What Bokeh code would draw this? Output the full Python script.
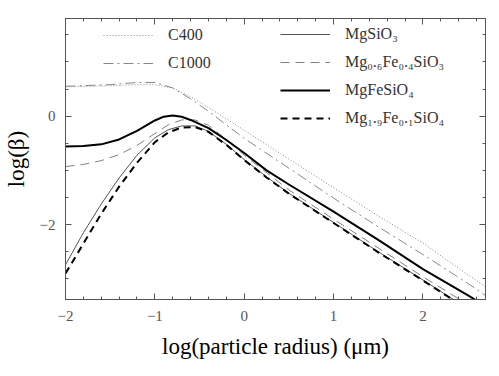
from bokeh.plotting import figure
from bokeh.models import (Range1d, LinearAxis, SingleIntervalTicker, Legend, LegendItem,
                          CustomJSTickFormatter)
from bokeh.embed import file_html
from bokeh.resources import INLINE

# ---- data (log radius in micron, log beta) ----
x_c400 = [-2.0, -1.5, -1.2, -1.0, -0.8, -0.6, -0.4, -0.2, 0.0, 0.5, 1.0, 1.5, 2.0, 2.5, 2.75]
y_c400 = [0.54, 0.56, 0.58, 0.58, 0.52, 0.36, 0.16, -0.05, -0.26, -0.79, -1.32, -1.84, -2.34, -2.92, -3.2]

x_c1000 = [-2.0, -1.5, -1.2, -1.0, -0.8, -0.6, -0.4, -0.2, 0.0, 0.5, 1.0, 1.5, 2.0, 2.5, 2.75]
y_c1000 = [0.55, 0.58, 0.62, 0.62, 0.52, 0.32, 0.09, -0.16, -0.41, -0.96, -1.51, -2.04, -2.55, -3.08, -3.36]

x_mgfe = [-2.0, -1.8, -1.6, -1.4, -1.2, -1.0, -0.9, -0.8, -0.7, -0.6, -0.4, -0.2, 0.0, 0.25, 0.5, 1.0, 1.5, 2.0, 2.5, 2.75]
y_mgfe = [-0.56, -0.55, -0.52, -0.43, -0.27, -0.08, -0.01, 0.01, -0.01, -0.07, -0.22, -0.44, -0.68, -1.0, -1.26, -1.76, -2.28, -2.82, -3.3, -3.55]

x_mg06 = [-2.0, -1.8, -1.6, -1.4, -1.2, -1.0, -0.85, -0.7, -0.55, -0.4, -0.2, 0.0, 0.5, 1.0, 1.5, 2.0, 2.5, 2.75]
y_mg06 = [-0.93, -0.89, -0.82, -0.71, -0.54, -0.32, -0.16, -0.07, -0.07, -0.17, -0.43, -0.72, -1.36, -1.9, -2.43, -2.96, -3.47, -3.73]

x_mgsio3 = [-2.0, -1.8, -1.6, -1.4, -1.2, -1.0, -0.85, -0.7, -0.55, -0.4, -0.2, 0.0, 0.25, 0.5, 1.0, 1.5, 2.0, 2.5, 2.75]
y_mgsio3 = [-2.74, -2.15, -1.62, -1.14, -0.72, -0.4, -0.25, -0.18, -0.18, -0.28, -0.52, -0.8, -1.12, -1.42, -1.96, -2.5, -3.02, -3.55, -3.8]

x_mg19 = [-2.0, -1.8, -1.6, -1.4, -1.2, -1.0, -0.85, -0.7, -0.55, -0.4, -0.2, 0.0, 0.25, 0.5, 1.0, 1.5, 2.0, 2.5, 2.75]
y_mg19 = [-2.9, -2.35, -1.8, -1.3, -0.86, -0.48, -0.3, -0.21, -0.2, -0.29, -0.53, -0.81, -1.13, -1.43, -1.97, -2.51, -3.03, -3.56, -3.81]

x_range = (-2.0, 2.7)
y_range = (-3.38, 1.8)

SERIF = "Liberation Serif"
AX = "#555555"

p = figure(width=490, height=368,
           x_range=Range1d(*x_range), y_range=Range1d(*y_range),
           output_backend="svg", toolbar_location=None,
           x_axis_location=None, y_axis_location=None,
           min_border_left=65, min_border_top=18, min_border_right=5, min_border_bottom=69)
p.grid.visible = False
p.outline_line_color = AX
p.background_fill_color = "white"
p.border_fill_color = "white"


def make_axis(ticker_interval, n_minor, labels=True, standoff=10):
    ax = LinearAxis(ticker=SingleIntervalTicker(interval=ticker_interval, num_minor_ticks=n_minor))
    ax.major_tick_in = 6
    ax.major_tick_out = 0
    ax.minor_tick_in = 3
    ax.minor_tick_out = 0
    ax.axis_line_color = AX
    ax.major_tick_line_color = AX
    ax.minor_tick_line_color = AX
    ax.major_label_text_font = SERIF
    ax.major_label_text_font_size = "15px"
    ax.major_label_text_color = "#555555"
    ax.major_label_standoff = standoff
    if not labels:
        ax.formatter = CustomJSTickFormatter(code="return '';")
        ax.major_label_standoff = 0
    return ax


xb = make_axis(1, 5, standoff=11)
xb.axis_label = "log(particle radius) (μm)"
xb.axis_label_text_font = SERIF
xb.axis_label_text_font_size = "23px"
xb.axis_label_text_font_style = "normal"
xb.axis_label_text_color = "black"
xb.axis_label_standoff = 10
p.add_layout(xb, "below")

yl = make_axis(2, 4, standoff=10)
yl.axis_label = "log(β)"
yl.axis_label_text_font = SERIF
yl.axis_label_text_font_size = "23px"
yl.axis_label_text_font_style = "normal"
yl.axis_label_text_color = "black"
yl.axis_label_standoff = 8
p.add_layout(yl, "left")

p.add_layout(make_axis(1, 5, labels=False), "above")
p.add_layout(make_axis(2, 4, labels=False), "right")

r_c400 = p.line(x_c400, y_c400, line_color="#888888", line_width=1, line_dash="1 2")
r_c1000 = p.line(x_c1000, y_c1000, line_color="#888888", line_width=1, line_dash="10 4 2 4")
r_mgsio3 = p.line(x_mgsio3, y_mgsio3, line_color="#555555", line_width=1)
r_mg06 = p.line(x_mg06, y_mg06, line_color="#808080", line_width=1, line_dash="9 6")
r_mgfe = p.line(x_mgfe, y_mgfe, line_color="black", line_width=2)
r_mg19 = p.line(x_mg19, y_mg19, line_color="black", line_width=2, line_dash="7 5")


def make_legend(items, loc):
    lg = Legend(items=items, location=loc)
    lg.border_line_color = None
    lg.background_fill_alpha = 0
    lg.padding = 0
    lg.margin = 0
    lg.spacing = 8
    lg.glyph_width = 50
    lg.glyph_height = 20
    lg.label_height = 20
    lg.label_standoff = 15
    lg.label_text_font = SERIF
    lg.label_text_font_size = "16px"
    lg.label_text_color = "#333333"
    return lg


leg1 = make_legend([LegendItem(label="C400", renderers=[r_c400]),
                    LegendItem(label="C1000", renderers=[r_c1000])], (38, 226))
leg2 = make_legend([LegendItem(label="MgSiO₃", renderers=[r_mgsio3]),
                    LegendItem(label="Mg₀.₆Fe₀.₄SiO₃", renderers=[r_mg06]),
                    LegendItem(label="MgFeSiO₄", renderers=[r_mgfe]),
                    LegendItem(label="Mg₁.₉Fe₀.₁SiO₄", renderers=[r_mg19])], (215, 171))
p.add_layout(leg1, "center")
p.add_layout(leg2, "center")

open("out.html", "w").write(file_html(p, INLINE))
